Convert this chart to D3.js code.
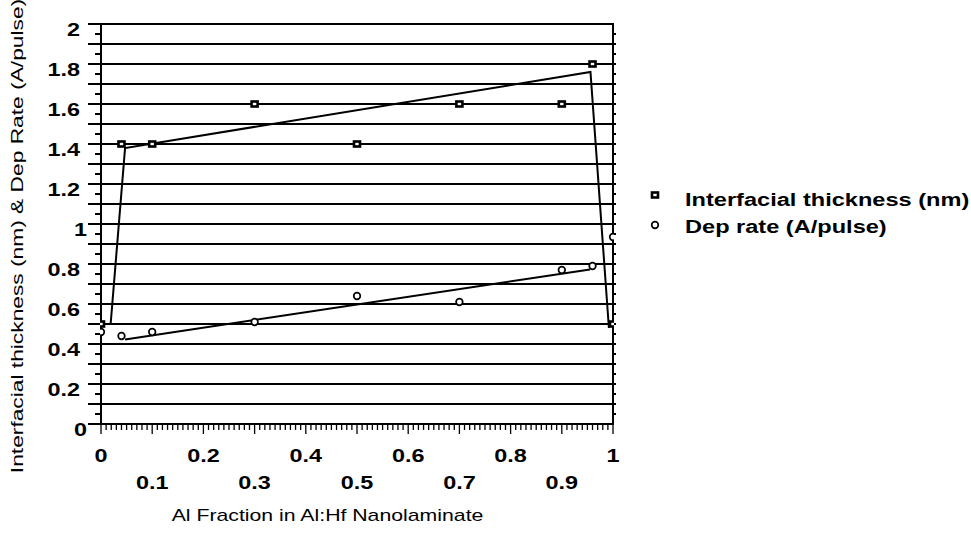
<!DOCTYPE html>
<html><head><meta charset="utf-8">
<script src="https://cdn.jsdelivr.net/npm/d3@7"></script>
<style>body{margin:0;background:#fff}svg{display:block}text{font-family:"Liberation Sans",Arial,sans-serif}</style>
</head><body>
<svg id="chart" width="971" height="533"></svg>
<script>
// ---- data ----
const thickX = [0, 0.04, 0.1, 0.3, 0.5, 0.7, 0.9, 0.96, 1.0];
const thickY = [0.5, 1.4, 1.4, 1.6, 1.4, 1.6, 1.6, 1.8, 0.5];
const rateX = [0, 0.04, 0.1, 0.3, 0.5, 0.7, 0.9, 0.96, 1.0];
const rateY = [0.46, 0.44, 0.46, 0.51, 0.64, 0.61, 0.77, 0.79, 0.935];
const thickFitX = [0.019, 0.047, 0.956, 0.992];
const thickFitY = [0.505, 1.38, 1.76, 0.48];
const rateFitX = [0.047, 0.955];
const rateFitY = [0.423, 0.773];
const yTicks = [0, 0.2, 0.4, 0.6, 0.8, 1, 1.2, 1.4, 1.6, 1.8, 2];
const xTicksRow1 = [0, 0.2, 0.4, 0.6, 0.8, 1];
const xTicksRow2 = [0.1, 0.3, 0.5, 0.7, 0.9];
const legendLabels = ["Interfacial thickness (nm)", "Dep rate (A/pulse)"];
const xTitle = "Al Fraction in Al:Hf Nanolaminate";
const yTitle = "Interfacial thickness (nm) & Dep Rate (A/pulse)";

const svg = d3.select("#chart");
const L = 101, R = 613, T = 24, B = 424;
const SX = 1.3; // horizontal stretch of the original's type
const x = d3.scaleLinear().domain([0, 1]).range([L, R]);
const y = d3.scaleLinear().domain([0, 2]).range([B, T]);

function stext(g, px, py, str, opts) {
  return g.append("text")
    .attr("transform", `translate(${px},${py}) scale(${opts.sx || SX},1)`)
    .attr("text-anchor", opts.anchor || "start")
    .attr("font-size", opts.size || 18)
    .attr("font-weight", opts.bold ? "bold" : "normal")
    .text(str);
}

// gridlines every 0.1
const gridVals = d3.range(1, 20).map(i => i / 10);
svg.append("g").selectAll("line").data(gridVals).join("line")
  .attr("x1", L - 13).attr("x2", R + 3)
  .attr("y1", d => y(d)).attr("y2", d => y(d))
  .attr("stroke", "#000").attr("stroke-width", 2);
const yMinor = d3.range(0, 40).map(i => i * 0.05 + 0.05).filter(v => Math.round(v * 100) % 10 !== 0);
svg.append("g").selectAll("line").data(yMinor).join("line")
  .attr("x1", L - 6).attr("x2", L)
  .attr("y1", d => y(d)).attr("y2", d => y(d))
  .attr("stroke", "#000").attr("stroke-width", 2);
svg.append("g").selectAll("line").data(yMinor).join("line")
  .attr("x1", R).attr("x2", R + 3)
  .attr("y1", d => y(d)).attr("y2", d => y(d))
  .attr("stroke", "#000").attr("stroke-width", 2);
svg.append("g").selectAll("line").data([0, 2]).join("line")
  .attr("x1", L - 13).attr("x2", L)
  .attr("y1", d => y(d)).attr("y2", d => y(d))
  .attr("stroke", "#000").attr("stroke-width", 2);

// x axis ticks
const xMinor = d3.range(0, 101).map(i => i / 100);
svg.append("g").selectAll("line").data(xMinor).join("line")
  .attr("x1", d => x(d)).attr("x2", d => x(d))
  .attr("y1", B).attr("y2", d => (Math.round(d * 100) % 10 === 0) ? B + 10 : B + 6)
  .attr("stroke", "#000").attr("stroke-width", 1.3);

// frame
svg.append("rect").attr("x", L).attr("y", T).attr("width", R - L).attr("height", B - T)
  .attr("fill", "none").attr("stroke", "#000").attr("stroke-width", 2);

// y tick labels (the original sets the "0" and "1" labels closer to the axis)
const gy = svg.append("g");
yTicks.forEach(d => stext(gy, (d === 0 || d === 1) ? 87 : 80, y(d) + 12, d3.format("")(d), {anchor: "end", bold: true}));
// x tick labels
const gx = svg.append("g");
xTicksRow1.forEach(d => stext(gx, x(d), 462, d3.format("")(d), {anchor: "middle", bold: true}));
xTicksRow2.forEach(d => stext(gx, x(d), 489, d3.format("")(d), {anchor: "middle", bold: true}));

// titles
stext(svg, 327.5, 521, xTitle, {anchor: "middle", size: 17, sx: 1.25});
svg.append("text").attr("transform", "translate(23,236) rotate(-90) scale(1.34,1)")
  .attr("text-anchor", "middle").attr("font-size", 17).text(yTitle);

// fit lines
const line = d3.line().x(d => x(d[0])).y(d => y(d[1]));
svg.append("path").datum(d3.zip(thickFitX, thickFitY)).attr("d", line)
  .attr("fill", "none").attr("stroke", "#000").attr("stroke-width", 2);
svg.append("path").datum(d3.zip(rateFitX, rateFitY)).attr("d", line)
  .attr("fill", "none").attr("stroke", "#000").attr("stroke-width", 2);

// markers
svg.append("clipPath").attr("id", "clip").append("rect")
  .attr("x", L - 1).attr("y", T - 6).attr("width", R - L + 2).attr("height", B - T + 12);
const mk = svg.append("g").attr("clip-path", "url(#clip)");
function square(g, cx, cy) {
  g.append("rect").attr("x", cx - 3).attr("y", cy - 2.5).attr("width", 6).attr("height", 5)
    .attr("fill", "#fff").attr("stroke", "#000").attr("stroke-width", 2.6);
}
function circle(g, cx, cy) {
  g.append("circle").attr("cx", cx).attr("cy", cy).attr("r", 3.3)
    .attr("fill", "#fff").attr("stroke", "#000").attr("stroke-width", 1.7);
}
thickX.forEach((v, i) => square(mk, x(v), y(thickY[i])));
rateX.forEach((v, i) => circle(mk, x(v), y(rateY[i])));

// legend
square(svg, 655, 195);
circle(svg, 655, 225);
legendLabels.forEach((t, i) => stext(svg, 685, 206 + i * 27, t, {bold: true, sx: 1.31}));
</script>
</body></html>
